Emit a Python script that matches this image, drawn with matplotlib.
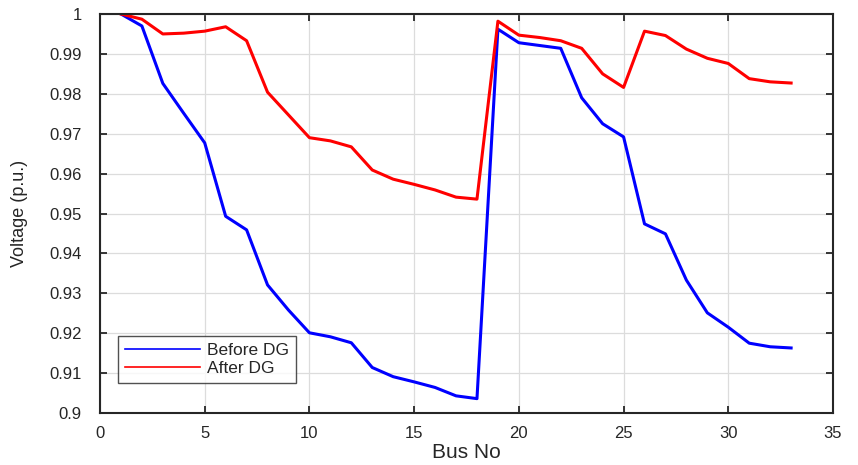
import matplotlib
matplotlib.use("Agg")
import matplotlib.pyplot as plt
import numpy as np

bus = list(range(1, 34))
before_dg = [1.0, 0.997, 0.9826, 0.9751, 0.9677, 0.9493, 0.9459, 0.9321, 0.9258, 0.9201,
             0.9191, 0.9176, 0.9114, 0.9091, 0.9078, 0.9064, 0.9043, 0.9036, 0.9962, 0.9928,
             0.9921, 0.9914, 0.979, 0.9725, 0.9692, 0.9474, 0.9449, 0.9333, 0.9251, 0.9215,
             0.9175, 0.9166, 0.9163]
after_dg = [1.0, 0.9987, 0.995, 0.9952, 0.9957, 0.9968, 0.9933, 0.9804, 0.9747, 0.969,
            0.9682, 0.9667, 0.9609, 0.9586, 0.9573, 0.9559, 0.9541, 0.9536, 0.9982, 0.9947,
            0.9941, 0.9933, 0.9914, 0.985, 0.9816, 0.9957, 0.9946, 0.9912, 0.9889, 0.9876,
            0.9838, 0.983, 0.9827]
x_ticks = [0, 5, 10, 15, 20, 25, 30, 35]
y_ticks = [0.9, 0.91, 0.92, 0.93, 0.94, 0.95, 0.96, 0.97, 0.98, 0.99, 1.0]
y_tick_labels = ["0.9", "0.91", "0.92", "0.93", "0.94", "0.95", "0.96", "0.97", "0.98", "0.99", "1"]

plt.rcParams['font.family'] = ['Liberation Sans', 'DejaVu Sans']
txt = '#262626'

fig = plt.figure(figsize=(8.58, 4.65), dpi=100)
ax = fig.add_axes([100/858, 1 - 413/465, 733/858, 399/465])

ax.plot(bus, before_dg, color='#0000ff', lw=2.2, label='Before DG')
ax.plot(bus, after_dg, color='#ff0000', lw=2.2, label='After DG')

ax.set_xlim(0, 35)
ax.set_ylim(0.9, 1.0)
ax.set_xticks(x_ticks)
ax.set_yticks(y_ticks)
ax.set_yticklabels(y_tick_labels)
ax.grid(True, color='#dcdcdc', lw=0.9)
ax.set_axisbelow(True)
ax.tick_params(direction='in', top=True, right=True, length=5, width=1.3,
               labelsize=12, colors=txt, labelcolor=txt)
ax.tick_params(axis='x', pad=9)
ax.tick_params(axis='y', pad=13)
for s in ax.spines.values():
    s.set_color(txt)
    s.set_linewidth(1.5)

ax.set_xlabel('Bus No', fontsize=15, color=txt)
ax.set_ylabel('Voltage (p.u.)', fontsize=13, color=txt)
ax.xaxis.set_label_coords(0.5, -(452 - 413) / 399, transform=ax.transAxes)
ax.xaxis.label.set_va('center')
ax.yaxis.set_label_coords((20 - 100) / 733, 0.5, transform=ax.transAxes)
ax.yaxis.label.set_va('center')

leg = ax.legend(loc='lower left', bbox_to_anchor=(18/733, 30/399), fontsize=12.5,
                frameon=True, fancybox=False, borderaxespad=0, handlelength=4.3,
                labelspacing=0.15, borderpad=0.4, handletextpad=0.45)
leg.get_frame().set_edgecolor(txt)
leg.get_frame().set_linewidth(1.0)
for l in leg.get_lines():
    l.set_linewidth(1.2)
for t in leg.get_texts():
    t.set_color(txt)

fig.savefig('out.png', dpi=100)
